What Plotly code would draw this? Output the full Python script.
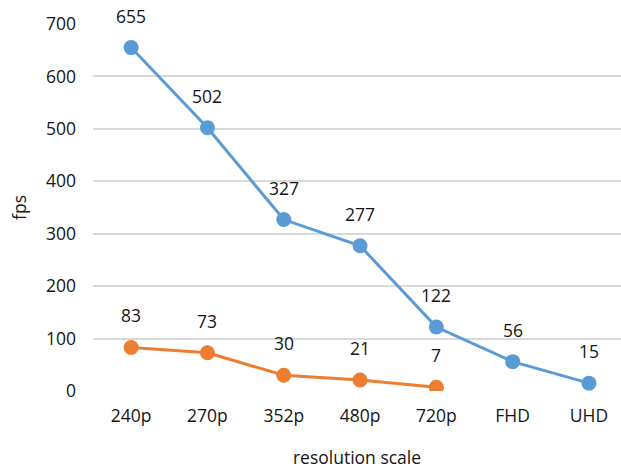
import plotly.graph_objects as go

resolutions = ["240p", "270p", "352p", "480p", "720p", "FHD", "UHD"]
fps_blue = [655, 502, 327, 277, 122, 56, 15]
fps_orange = [83, 73, 30, 21, 7]

BLUE = "#5B9BD5"
ORANGE = "#ED7D31"
FONT = "Open Sans"
TXT = "#151515"

fig = go.Figure()
for vals, color in [(fps_blue, BLUE), (fps_orange, ORANGE)]:
    cats = resolutions[:len(vals)]
    fig.add_trace(go.Scatter(
        x=cats, y=vals, mode="lines+markers",
        line=dict(color=color, width=3),
        marker=dict(color=color, size=15),
        showlegend=False, hoverinfo="skip",
    ))
    for c, v in zip(cats, vals):
        fig.add_annotation(x=c, y=v, text=str(v), showarrow=False,
                           yshift=32, font=dict(family=FONT, size=17.5, color=TXT))

fig.update_layout(
    width=621, height=475,
    margin=dict(l=93, r=0, t=24, b=84),
    paper_bgcolor="white", plot_bgcolor="white",
    font=dict(family=FONT, size=17.5, color=TXT),
    xaxis=dict(
        type="category", categoryorder="array", categoryarray=resolutions,
        range=[-0.5, 6.42], showgrid=False, zeroline=False, showline=False,
        ticks="", ticklabelstandoff=12,
        tickfont=dict(family=FONT, size=17.5, color=TXT),
        title=dict(text="resolution scale", standoff=26,
                   font=dict(family=FONT, size=17.5, color=TXT)),
    ),
    yaxis=dict(
        range=[0, 700], dtick=100, showgrid=True, gridcolor="#D9D9D9", gridwidth=1.5,
        zeroline=False, showline=False, ticks="", ticklabelstandoff=16,
        tickfont=dict(family=FONT, size=17.5, color=TXT),
        title=dict(text="fps", standoff=14,
                   font=dict(family=FONT, size=17.5, color=TXT)),
    ),
)

fig.write_html("out.html")
